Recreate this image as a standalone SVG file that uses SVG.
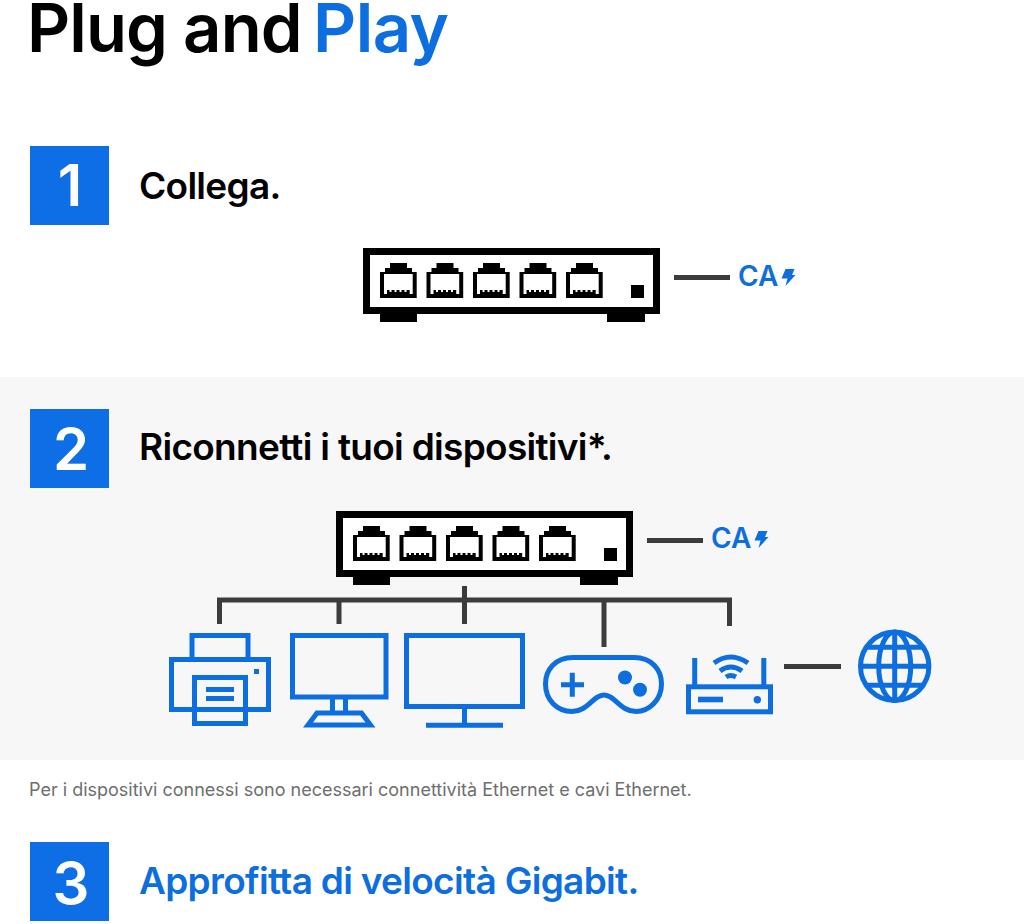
<svg xmlns="http://www.w3.org/2000/svg" width="1024" height="924" viewBox="0 0 1024 924">
<style>
.h{font-family:Inter,"Liberation Sans",sans-serif;font-weight:600}
.step{font-size:37px;letter-spacing:-0.7px;fill:#000}
.num{font-size:58px;fill:#fff;text-anchor:middle;font-weight:600}
.ca{font-size:28px;fill:#0d6ee0;font-weight:600}
.b{fill:none;stroke:#0d6ee0;stroke-width:5}
.bf{fill:#0d6ee0}
.c{fill:none;stroke:#3c3c3c;stroke-width:5}
.sq{fill:#0d6ee6}
</style>
<defs>
<g id="port">
<path d="M10 0H27V5H32V9H36.7V35H0V9H5V5H10Z" fill="#000"/>
<rect x="4" y="11" width="28.7" height="20" fill="#fff"/>
<path d="M7 27H29.7V31H7Z" fill="#000"/>
<path d="M9.5 27h2v2h-2zM14.5 27h2v2h-2zM19.5 27h2v2h-2zM24.5 27h2v2h-2z" fill="#fff"/>
</g>
<g id="switch">
<rect x="3.5" y="3.500" width="290" height="59" fill="#fff" stroke="#000" stroke-width="7"/>
<rect x="17" y="66" width="37" height="8"/>
<rect x="244" y="66" width="38" height="8"/>
<use href="#port" x="17" y="15"/>
<use href="#port" x="63.500" y="15"/>
<use href="#port" x="110" y="15"/>
<use href="#port" x="156.500" y="15"/>
<use href="#port" x="203" y="15"/>
<rect x="268" y="37" width="13" height="13"/>
</g>
<path id="bolt" d="M4 0H13L10.500 6H14L4 17L6 9.500H0Z" fill="#0d6ee0"/>
</defs>

<rect id="band" x="0" y="377" width="1024" height="383" fill="#f7f7f7"/>

<g id="title">
<text class="h" x="27" y="52" font-size="67" letter-spacing="-0.900" fill="#000">Plug and</text>
<text class="h" x="313" y="52" font-size="67" letter-spacing="-0.500" fill="#0d6ee0">Play</text>
</g>

<g id="step1">
<rect class="sq" x="30" y="146" width="79" height="79"/>
<text class="h num" x="70" y="206">1</text>
<text class="h step" x="139" y="199">Collega.</text>
</g>
<g id="switch1"><use href="#switch" x="363" y="248"/></g>
<g id="power1">
<text class="h ca" x="738" y="286">CA</text>
<use href="#bolt" x="781.500" y="269"/>
</g>

<g id="step2">
<rect class="sq" x="30" y="409" width="79" height="79"/>
<text class="h num" x="71" y="470">2</text>
<text class="h step" x="139" y="460">Riconnetti i tuoi dispositivi*.</text>
</g>
<g id="switch2"><use href="#switch" x="336" y="511"/></g>
<g id="power2">
<text class="h ca" x="711" y="548">CA</text>
<use href="#bolt" x="754.500" y="531"/>
</g>

<g id="connectors">
<path class="c" d="M219.500 624V600H729.500V626"/>
<path class="c" d="M339 600V624M464.500 586V624M604 600V647"/>
<path class="c" stroke-width="5.500" d="M674 277.500H730M647 540.500H703M784 666.500H841"/>
</g>

<g id="printer">
<path class="b" d="M192 659V635.500H248V659"/>
<rect class="b" x="171.500" y="659.500" width="97" height="50"/>
<rect class="b" x="194.500" y="677.500" width="51" height="46" style="fill:#f7f7f7"/>
<path class="b" d="M194.500 709.500H245.500"/>
<rect class="bf" x="206" y="687" width="28" height="5"/>
<rect class="bf" x="206" y="696" width="28" height="5"/>
<rect class="bf" x="254" y="669" width="5" height="5"/>
</g>
<g id="monitor1">
<rect class="b" x="292.500" y="635.500" width="93.500" height="61.500"/>
<path class="b" d="M332.500 699V712M345.500 699V712"/>
<path class="b" d="M317 713H361.500L370.500 725H308Z"/>
</g>
<g id="monitor2">
<rect class="b" x="406.500" y="635.500" width="116" height="71"/>
<path class="b" d="M464.500 708V725M426 725.200H503"/>
</g>
<g id="gamepad">
<path class="b" d="M573 657.500H634C652 657.500 661.500 670 661.500 684C661.500 700 649 711.500 636 711.500C620 711.500 615 695 604 695C593 695 588 711.500 572 711.500C557 711.500 545.500 700 545.500 684C545.500 670 555 657.500 573 657.500Z"/>
<path class="b" d="M561 684.700H584M572.300 672.700V696.700"/>
<circle class="bf" cx="625" cy="677.500" r="7"/>
<circle class="bf" cx="640" cy="689.700" r="7"/>
</g>
<g id="router">
<rect class="b" x="688.500" y="686.800" width="82" height="25"/>
<path class="b" d="M694.700 658V686M763.800 658V686"/>
<rect class="bf" x="698" y="696.700" width="25" height="5.600"/>
<circle class="bf" cx="757.300" cy="699.700" r="3.700"/>
<path class="b" d="M714 663Q730.700 651 748 663M720 671Q730.700 663 742 671M726 677Q730.700 674 736 677"/>
</g>
<g id="globe">
<circle class="b" cx="894.700" cy="666.300" r="34.200"/>
<ellipse class="b" cx="894.700" cy="666.300" rx="16" ry="34.200"/>
<path class="b" d="M894.700 632V700.500M860.500 666.300H929M866 647.300H923.500M866 685.300H923.500"/>
</g>

<text id="note" x="29" y="796" font-family="Inter,'Liberation Sans',sans-serif" font-size="18" fill="#6e6e6e">Per i dispositivi connessi sono necessari connettività Ethernet e cavi Ethernet.</text>

<g id="step3">
<rect class="sq" x="30" y="842" width="79" height="79"/>
<text class="h num" x="71" y="904">3</text>
<text class="h step" x="139" y="894" style="fill:#0d6ee0">Approfitta di velocità Gigabit.</text>
</g>
</svg>
